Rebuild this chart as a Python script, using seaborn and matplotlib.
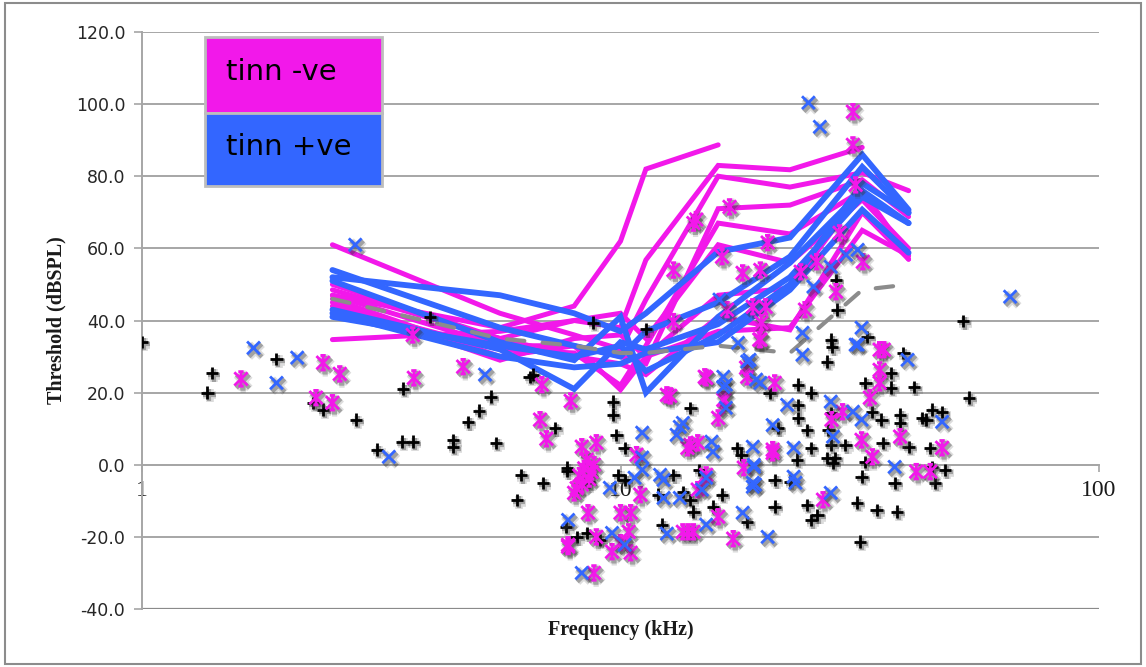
import numpy as np
import pandas as pd
import matplotlib
matplotlib.use("Agg")
import matplotlib.pyplot as plt
import matplotlib.patheffects as pe
from matplotlib.path import Path
from matplotlib.patches import Rectangle
import seaborn as sns

# ---------------- data ----------------
# audiogram test frequencies (kHz)
freqs = [2.5, 5.6, 8, 10, 11.3, 16, 22.6, 32, 40]

# thresholds (dB SPL) per animal, tinnitus-negative group
tinn_neg = [
    [47, 38, 44, 62, 82, 88.7, None, None, None],
    [48.5, 35, 40, 38, 56.8, 83, 81.8, 88, None],
    [61, 42, 36, 32, 45.8, 80, 77, 81, 76],
    [47, 33, 33, 30, 28, 71, 72, 79, 68.8],
    [44, 32, 31, 22, 33, 67, 64, 76, 57],
    [34.7, 37, 40, 42, 35, 61, 56, 73.5, 60],
    [45, 29, 35, 36, 30, 47, 49, 76, 58],
    [50, 35, 30, 28, 25, 41, 37.4, 70, 57],
    [46, 30, 33, 20.8, 30, 37, 38, 65, 58],
]

# thresholds (dB SPL) per animal, tinnitus-positive group
tinn_pos = [
    [52, 47, 42, 37, 42, 59, 63, 86, 70.7],
    [54, 38, 33, 30, 37, 45, 57.7, 82.6, 69.8],
    [51, 34, 29, 41, 20, 41, 56, 76, 67],
    [43, 32, 21, 34, 32, 39, 52, 74.3, 67],
    [42, 30, 27, 28, 31, 34, 48.5, 70.7, 58.8],
    [41, 33, 30, 33, 26, 36, 50, 78, 70],
]

# mean reference audiogram
ref_levels = [46, 35, 33, 31, 31, 33, 31, 48.5, 50]

# single-unit thresholds at characteristic frequency
units_ctrl_f = [1.0, 1.40, 1.37, 1.91, 2.28, 2.39, 2.80, 3.10, 3.49, 3.68, 3.51, 4.0, 4.47, 4.47,
                4.80, 5.06, 5.35, 5.5, 6.46, 6.08, 6.2, 6.88, 7.74, 7.74, 7.3, 6.56, 8.76, 8.1,
                8.5, 9.64, 9.64, 9.8, 10.2, 9.9, 10.2, 7.7, 9.06, 12.9, 12.0, 13.5, 14.0, 14.2,
                12.2, 15.6, 16.3, 14.6, 18.4, 17.5, 17.9, 14.0, 11.3, 20.5, 23.5, 25, 23.5, 23.5,
                24.5, 21.3, 25, 23.4, 21, 22.6, 21, 24.5, 25, 25.8, 31.2, 34.3, 37.8, 31.7, 27.5,
                27.2, 27.5, 29.5, 27, 28.1, 27.8, 31.9, 32.5, 33.5, 35.1, 37.4, 35.3, 40, 38.4,
                38.4, 32.5, 32.8, 36.8, 36.8, 41.1, 39, 53.5, 42.7, 44.8, 47, 43.6, 44.4, 44.8,
                47.7, 45.4, 52, 28.2, 28.4, 27.5, 27.7, 27.0, 8.6]
units_ctrl_db = [34.1, 25.5, 20, 29.4, 17.2, 15.3, 12.5, 4.2, 6.4, 6.4, 21.1, 41, 6.9, 5.0,
                 11.9, 15, 18.9, 6.1, 24.4, -9.7, -2.8, -5, -0.8, -1.7, 10.2, 25, 39.4, -20,
                 -18.9, 17.5, 13.9, 8.3, 4.7, -2.8, -4.2, -17.2, -20.8, -2.8, -8.3, -7.5, -9.7, -13,
                 -16.6, -11.6, -8.3, -1.4, -15.8, 4.7, 2.8, 15.8, 37.7, 20, 22.2, 20, 16.6, 13,
                 9.7, 10.2, 4.7, 1.4, -4.2, -4.7, -11.6, -11.1, -15.3, -13.9, -10.5, -12.5, -13, -21.3, 14.4,
                 9.7, 5.5, 5.5, 1.9, 1.9, 0.6, -3.3, 0.8, 14.7, 12.5, -5, 6.1, 5, 13.9,
                 11.6, 22.7, 35.5, 25.5, 21.4, 21.6, 31, 18.6, 13, 15.3, 14.7, 12.5, 4.7, -0.6,
                 -1.4, -5, 39.9, 51.3, 43, 34.7, 32.7, 28.6, -4.7]

units_neg_f = [1.61, 2.39, 2.59, 2.31, 2.5, 3.68, 3.7, 4.69, 6.79, 7.0, 6.85, 7.87, 7.77, 8.9,
               8.8, 8.9, 8.3, 8.5, 8.4, 8.2, 8.6, 8.3, 8.1, 8.0, 8.7, 8.8, 10.8, 11, 8.55, 10,
               10.5, 7.77, 9.6, 10.4, 10.5, 10, 13.5, 13.85, 14.2, 16, 14.5, 15.1, 17.2, 18.1,
               13.8, 14.5, 12.7, 16, 16.4, 14, 15.1, 16.5, 19.6, 18.4, 21, 20.8, 20.8, 26.5,
               27.6, 29.1, 31.9, 33.6, 38.4, 33.2, 34.8, 35.5, 34.8, 34.8, 47, 41.5, 44.4,
               30.6, 30.6, 31, 16.9, 14.4, 16.3, 20.3, 18.0, 19.6, 28.7, 32.1, 25.7, 23.8, 28.2,
               24.3, 20.1, 18.9, 16.7, 19.7, 19.5, 18.3, 15, 14.2, 12.9, 12.9, 12.5]
units_neg_db = [23.8, 28.3, 25.2, 18.6, 17.2, 36, 24.1, 27.2, 12.5, 7.2, 22.2, 17.7, -22.7, -20,
                -30, 6.1, 5, 1.4, -1, -3, -4, -5.5, -6.5, -7.8, -2, 0, 2.8, -8.3, -13.3, -13.3,
                -13.3, -22.2, -24.1, -18.6, -24.4, -21.6, -18.6, -18.6, -18.6, -14.4, -6.9, -2.8, -20.5, -0.8,
                4.7, 6.1, 19.1, 13, 18, 5.5, 24.1, 18, 34.7, 24.4, 22.7, 4.2, 3.3, -9.7,
                12.5, 14.7, 6.9, 2.2, 7.8, 18.6, 31.9, 31.9, 26.3, 22.7, 4.7, -1.9, -1.9,
                97.9, 88.7, 77.6, 71.5, 68, 57.7, 61.6, 53.2, 54, 64.3, 56.3, 56.3, 53.5, 48,
                43, 43.8, 43.8, 43, 39.4, 34.7, 26.9, 24.4, 67, 54, 39.7, 19.4]

units_pos_f = [1.71, 1.91, 2.11, 3.28, 5.21, 2.79, 7.77, 8.3, 11.1, 11.1, 11.1, 10.7, 9.5, 12.1,
               12.3, 12.3, 13.3, 12.5, 15.1, 14.8, 15.1, 18.0, 18.9, 18.9, 19.1, 19, 18.9, 15.5,
               15.6, 13.3, 13.1, 16.6, 16.4, 13.5, 16.4, 16.6, 18.4, 19.6, 22.3, 20.8, 23, 19,
               23, 23.2, 20.3, 27.5, 27.5, 27.8, 30.6, 31.9, 37.4, 47, 31, 39.8, 65.2, 24.7,
               26.1, 31.3, 29.6, 27.5, 25.3, 24, 24, 31.9, 31.3, 16.1, 17.6, 18.6, 19.2, 9.6, 10.2]
units_pos_db = [32.4, 22.7, 29.7, 2.2, 25, 61, -15.3, -30, 8.9, 2, -1.4, -3.6, -6.4, -2.8,
                -4.2, -9.2, -9.2, -19.1, -16.6, -6.9, -3.6, -13.3, -6.1, -5, -5.5, -0.6, 5, 6.4,
                3.6, 10.5, 8.3, 15.8, 21.6, 11.6, 24.4, 22.2, 28.6, 22.7, 16.6, 11, 4.7, 0,
                -3.3, -5, -20, -7.8, 17.5, 7.8, 14.7, 12.5, -0.6, 11.9, 33.3, 29.1, 46.6, 100.4,
                93.7, 59.6, 58.2, 54.9, 49.4, 36.6, 30.5, 38, 33.3, 45.8, 33.8, 29.1, 23.6, -18.9, -22.2]

group_names = ["tinn -ve", "tinn +ve"]
y_ticks = [-40, -20, 0, 20, 40, 60, 80, 100, 120]
x_ticks = [1, 10, 100]

# ---------------- styling ----------------
PINK = "#F218EA"
BLUE = "#3366FF"
GRID = "#A6A6A6"

sns.set_theme(style="white")
plt.rcParams["font.family"] = ["DejaVu Sans"]

fig = plt.figure(figsize=(11.46, 6.67), dpi=100)
ax = fig.add_axes([142 / 1146, 1 - 609 / 667, (1099 - 142) / 1146, (609 - 32) / 667])

# long-form table of audiograms
rows = []
for gi, (name, group) in enumerate(zip(group_names, [tinn_neg, tinn_pos])):
    for ai, levels in enumerate(group):
        for f, v in zip(freqs, levels):
            if v is not None:
                rows.append({"freq": f, "level": v, "group": name, "animal": f"{gi}-{ai}"})
audio = pd.DataFrame(rows)

n0 = len(ax.lines)
sns.lineplot(data=audio[audio.group == "tinn -ve"], x="freq", y="level", units="animal",
             estimator=None, color=PINK, sort=False, ax=ax, zorder=3, legend=False)
for ln in ax.lines[n0:]:
    ln.set_linewidth(3.6)
    ln.set_solid_capstyle("round")
    ln.set_solid_joinstyle("miter")

n0 = len(ax.lines)
sns.lineplot(data=audio[audio.group == "tinn +ve"], x="freq", y="level", units="animal",
             estimator=None, color=BLUE, sort=False, ax=ax, zorder=4, legend=False)
for ln in ax.lines[n0:]:
    ln.set_linewidth(4.2)
    ln.set_solid_capstyle("round")
    ln.set_solid_joinstyle("miter")

ref = pd.DataFrame({"freq": freqs, "level": ref_levels})
sns.lineplot(data=ref, x="freq", y="level", color="#8C8C8C", ax=ax, zorder=5, legend=False)
ref_line = ax.lines[-1]
ref_line.set_linewidth(3.0)
ref_line.set_dashes([4.2, 4.4])
ref_line.set_dash_capstyle("round")

# asterisk marker: an "x" crossed by a vertical bar with short caps
star = Path([(-1, -1), (1, 1), (-1, 1), (1, -1), (0, -1.1), (0, 1.1),
             (-0.4, 1.1), (0.4, 1.1), (-0.4, -1.1), (0.4, -1.1)],
            [Path.MOVETO, Path.LINETO] * 5)

shadow = [pe.SimpleLineShadow(offset=(1.6, -2.0), shadow_color="0.25", alpha=0.18, linewidth=5.5),
          pe.SimpleLineShadow(offset=(1.4, -1.8), shadow_color="0.2", alpha=0.35, linewidth=3),
          pe.Normal()]

sns.scatterplot(x=units_ctrl_f, y=units_ctrl_db, marker="+", s=80, color="black",
                linewidth=2.0, ax=ax, zorder=6)
ax.collections[-1].set_path_effects(shadow)
sns.scatterplot(x=units_neg_f, y=units_neg_db, marker=star, s=110, facecolor="none",
                edgecolor=PINK, linewidth=2.0, ax=ax, zorder=7)
ax.collections[-1].set_path_effects(shadow)
sns.scatterplot(x=units_pos_f, y=units_pos_db, marker="x", s=85, color=BLUE,
                linewidth=2.0, ax=ax, zorder=8)
ax.collections[-1].set_path_effects(shadow)

# ---------------- axes ----------------
ax.set_xscale("log")
ax.set_xlim(1, 100)
ax.set_ylim(-40, 120)
ax.set_yticks(y_ticks)
ax.set_yticklabels([f"{t:.1f}" for t in y_ticks])
ax.set_xticks(x_ticks)
ax.set_xticklabels([str(t) for t in x_ticks])
ax.xaxis.set_minor_locator(matplotlib.ticker.NullLocator())
ax.yaxis.grid(True, color=GRID, lw=1.4)
ax.xaxis.grid(False)
ax.set_axisbelow(True)

for side in ["top", "right"]:
    ax.spines[side].set_visible(False)
ax.spines["bottom"].set_position(("data", 0))
ax.spines["bottom"].set_color(GRID)
ax.spines["bottom"].set_linewidth(1.4)
ax.spines["left"].set_color(GRID)
ax.spines["left"].set_linewidth(1.4)
ax.tick_params(axis="y", direction="out", length=6, width=1.2, color=GRID,
               labelsize=12.5, labelcolor="#262626", pad=6, left=True)
ax.tick_params(axis="x", direction="out", length=5, width=1.2, color=GRID,
               labelcolor="#1a1a1a", labelsize=17, labelfontfamily="Liberation Serif",
               pad=6, bottom=True)
# bottom boundary line at -40
ax.axhline(-40, color="#8A8A8A", lw=1.6, zorder=1)

ax.set_xlabel("Frequency (kHz)", fontfamily="Liberation Serif", fontweight="bold",
              fontsize=14.5, color="#1a1a1a")
ax.set_ylabel("Threshold (dBSPL)", fontfamily="Liberation Serif", fontweight="bold",
              fontsize=14.5, color="#1a1a1a")
ax.xaxis.set_label_coords(0.5, -0.019)
ax.yaxis.set_label_coords(-0.079, 0.5)

# ---------------- legend block ----------------
lx0, lx1 = (205 - 142) / 957, (382 - 142) / 957
ly_top, ly_mid, ly_bot = (609 - 37) / 577, (609 - 113) / 577, (609 - 186) / 577
for (y0, y1, col, label) in [(ly_mid, ly_top, PINK, group_names[0]),
                             (ly_bot, ly_mid, BLUE, group_names[1])]:
    ax.add_patch(Rectangle((lx0, y0), lx1 - lx0, y1 - y0, transform=ax.transAxes,
                           facecolor=col, edgecolor="#BDBDBD", lw=2, zorder=10,
                           clip_on=False))
    ax.text(lx0 + 0.022, (y0 + y1) / 2 + 0.005, label, transform=ax.transAxes,
            fontsize=21, color="black", va="center", ha="left", zorder=11)

# outer frame
fig.patches.append(Rectangle((5 / 1146, 3 / 667), 1136 / 1146, 661 / 667,
                             transform=fig.transFigure, fill=False,
                             edgecolor="#8C8C8C", lw=1.5))

fig.savefig("out.png", dpi=100, facecolor="white")
